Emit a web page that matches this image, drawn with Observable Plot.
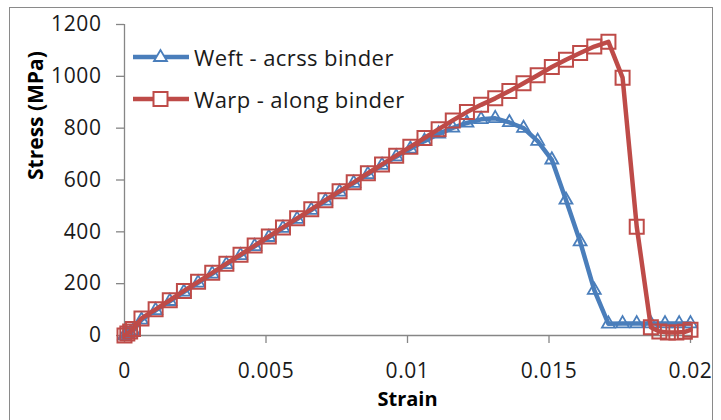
<!DOCTYPE html>
<html>
<head>
<meta charset="utf-8">
<script src="https://cdn.jsdelivr.net/npm/d3@7"></script>
<script src="https://cdn.jsdelivr.net/npm/@observablehq/plot@0.6"></script>
<style>
  html, body { margin: 0; padding: 0; background: #fff; }
  #wrap { position: relative; width: 721px; height: 420px; overflow: hidden; font-family: "Open Sans", sans-serif; }
  #frame { position: absolute; left: 9px; top: 7px; width: 704px; height: 430px; border: 1.5px solid #8a8a8a; box-sizing: border-box; pointer-events: none; }
  #legend { position: absolute; left: 133px; top: 36px; }
  .row { display: flex; align-items: center; height: 42px; font-size: 22px; color: #1a1a1a; letter-spacing: 0.4px; }
  .row svg { margin-right: 5px; }
  #chart g[aria-label="x-axis tick label"] text, #chart g[aria-label="y-axis tick label"] text { letter-spacing: 0.6px; }
</style>
</head>
<body>
<div id="wrap">
  <div id="chart"></div>
  <div id="frame"></div>
  <div id="legend"></div>
</div>
<script>
// Weft - acrss binder (blue, triangles)
const weftStrain = [0, 0.0001, 0.0002, 0.0003, 0.0006, 0.0011, 0.0016, 0.0021, 0.0026, 0.0031, 0.0036, 0.0041, 0.0046, 0.0051, 0.0056, 0.0061, 0.0066, 0.0071, 0.0076, 0.0081, 0.0086, 0.0091, 0.0096, 0.0101, 0.0106, 0.0111, 0.0116, 0.0121, 0.0126, 0.0131, 0.0136, 0.0141, 0.0146, 0.0151, 0.0156, 0.0161, 0.0166, 0.0171, 0.0176, 0.0181, 0.0186, 0.0191, 0.0196, 0.0200];
const weftStress = [0, 5, 10, 18, 60, 97, 132, 168, 203, 238, 274, 309, 344, 379, 414, 449, 484, 519, 554, 588, 622, 657, 690, 720, 750, 778, 801, 820, 834, 838, 822, 800, 750, 678, 523, 362, 175, 45, 46, 46, 46, 46, 46, 46];

// Warp - along binder (red, squares)
const warpStrain = [0, 0.0001, 0.0002, 0.0003, 0.0006, 0.0011, 0.0016, 0.0021, 0.0026, 0.0031, 0.0036, 0.0041, 0.0046, 0.0051, 0.0056, 0.0061, 0.0066, 0.0071, 0.0076, 0.0081, 0.0086, 0.0091, 0.0096, 0.0101, 0.0106, 0.0111, 0.0116, 0.0121, 0.0126, 0.0131, 0.0136, 0.0141, 0.0146, 0.0151, 0.0156, 0.0161, 0.0166, 0.0171, 0.0176, 0.0181, 0.0186, 0.0189, 0.0192, 0.0195, 0.0198, 0.0200];
const warpStress = [0, 8, 15, 25, 66, 101, 136, 172, 207, 242, 277, 312, 347, 382, 417, 452, 487, 522, 557, 591, 626, 660, 694, 728, 762, 796, 830, 862, 890, 915, 943, 973, 1004, 1036, 1064, 1090, 1115, 1133, 995, 420, 32, 15, 12, 12, 14, 22];

const seriesNames = ["Weft - acrss binder", "Warp - along binder"];
const seriesColors = ["#4a7ebb", "#be4b48"];

const xTicks = [0, 0.005, 0.01, 0.015, 0.02];
const xTickLabels = ["0", "0.005", "0.01", "0.015", "0.02"];
const yTicks = [0, 200, 400, 600, 800, 1000, 1200];
const xTitle = "Strain";
const yTitle = "Stress (MPa)";

const weft = weftStrain.map((x, i) => ({x, y: weftStress[i]}));
const warp = warpStrain.map((x, i) => ({x, y: warpStress[i]}));

const axisColor = "#868686";

const chart = Plot.plot({
  width: 721,
  height: 420,
  marginLeft: 124,
  marginRight: 31,
  marginTop: 24,
  marginBottom: 85,
  style: { fontFamily: "Open Sans, sans-serif", background: "transparent", overflow: "visible" },
  x: { domain: [0, 0.02] },
  y: { domain: [0, 1200] },
  marks: [
    Plot.axisY(yTicks, { tickSize: 8, tickPadding: 15, fontSize: 21, label: null, stroke: axisColor, fill: "#1a1a1a", strokeWidth: 1.3,
      tickFormat: d => String(d) }),
    Plot.axisX(xTicks, { tickSize: 8, tickPadding: 20, fontSize: 21, label: null, stroke: axisColor, fill: "#1a1a1a", strokeWidth: 1.3,
      tickFormat: d => xTickLabels[xTicks.indexOf(d)] }),
    Plot.ruleX([0], { stroke: axisColor, strokeWidth: 1.3 }),
    Plot.ruleY([0], { stroke: axisColor, strokeWidth: 1.3 }),
    Plot.text([yTitle], { frameAnchor: "left", rotate: -90, dx: -88, fontWeight: "bold", fontSize: 21, fill: "#000" }),
    Plot.text([xTitle], { frameAnchor: "bottom", dy: 70, fontWeight: "bold", fontSize: 20, fill: "#000" }),
    Plot.line(weft, { x: "x", y: "y", stroke: seriesColors[0], strokeWidth: 4.5 }),
    Plot.dot(weft, { x: "x", y: "y", symbol: "triangle", r: 4.8, stroke: seriesColors[0], strokeWidth: 1.8, fill: "none" }),
    Plot.line(warp, { x: "x", y: "y", stroke: seriesColors[1], strokeWidth: 4.5 }),
    Plot.dot(warp, { x: "x", y: "y", symbol: "square", r: 7.9, stroke: seriesColors[1], strokeWidth: 2, fill: "none" })
  ]
});
document.getElementById("chart").appendChild(chart);

// Legend
const legend = document.getElementById("legend");
seriesNames.forEach((name, i) => {
  const row = document.createElement("div");
  row.className = "row";
  const c = seriesColors[i];
  const marker = i === 0
    ? `<polygon points="27.5,14 21,25 34,25" fill="#fff" stroke="${c}" stroke-width="1.8"/>`
    : `<rect x="20.5" y="14" width="14" height="14" fill="#fff" stroke="${c}" stroke-width="2"/>`;
  row.innerHTML = `<svg width="56" height="42" viewBox="0 0 56 42"><line x1="0" x2="56" y1="21" y2="21" stroke="${c}" stroke-width="4.5"/>${marker}</svg><span>${name}</span>`;
  legend.appendChild(row);
});
</script>
</body>
</html>
